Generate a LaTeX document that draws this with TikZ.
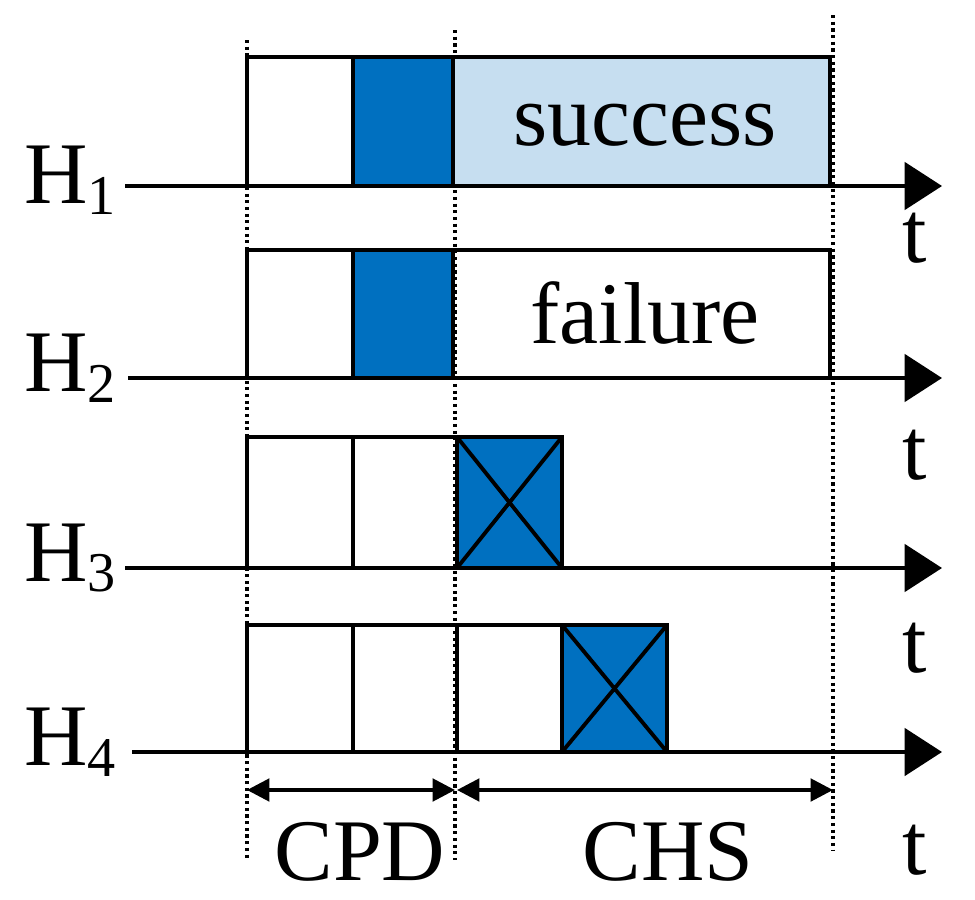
\documentclass[tikz,border=0pt]{standalone}
\usepackage{fontspec}
\setmainfont{Liberation Serif}
\usetikzlibrary{arrows.meta,positioning}
\definecolor{slotblue}{RGB}{0,112,192}
\definecolor{slotlight}{RGB}{198,222,240}
\newcommand{\hlab}[1]{H\raisebox{-0.12em}{\fontsize{32}{32}\selectfont #1}}

\begin{document}
\begin{tikzpicture}[x=0.02cm,y=-0.02cm,
    line width=2.2pt,
    axis/.style={-{Triangle[length=0.75cm,width=0.95cm]}},
    slot/.style={draw,line width=2.2pt},
    guide/.style={dotted,line width=1.8pt},
    span/.style={{Triangle[length=0.45cm,width=0.45cm]}-{Triangle[length=0.45cm,width=0.45cm]}},
    lab/.style={font=\fontsize{50}{52}\selectfont,inner sep=0pt},
]
\useasboundingbox (0,0) rectangle (975,900);

% Guides
\coordinate (g1a) at (247,40);  \coordinate (g1b) at (247,860);
\coordinate (g2a) at (455,30);  \coordinate (g2b) at (455,860);
\coordinate (g3a) at (833,15);  \coordinate (g3b) at (833,850);
\draw[guide] (g1a) -- (g1b);
\draw[guide] (g2a) -- (g2b);
\draw[guide] (g3a) -- (g3b);

% H1
\fill[slotblue] (353,57) rectangle (453,186);
\fill[slotlight] (453,57) rectangle (830,186);
\draw[slot] (247,186) -- (247,57) -- (830,57) -- (830,186);
\draw[slot] (353,57) -- (353,186);
\draw[slot] (453,57) -- (453,186);
\node[lab] (succ) at (645,125) {success};
\coordinate (a1s) at (125,186); \coordinate (a1e) at (942,186);
\draw[axis] (a1s) -- (a1e);

% H2
\fill[slotblue] (353,250) rectangle (453,378);
\draw[slot] (247,378) -- (247,250) -- (830,250) -- (830,378);
\draw[slot] (353,250) -- (353,378);
\draw[slot] (453,250) -- (453,378);
\node[lab] (fail) at (645,313) {failure};
\coordinate (a2s) at (128,378); \coordinate (a2e) at (942,378);
\draw[axis] (a2s) -- (a2e);

% H3
\fill[slotblue] (457,437) rectangle (562,568);
\draw[slot] (247,568) -- (247,437) -- (562,437) -- (562,568);
\draw[slot] (353,437) -- (353,568);
\draw[slot] (457,437) -- (457,568);
\draw[slot] (457,437) -- (562,568) (562,437) -- (457,568);
\coordinate (a3s) at (125,568); \coordinate (a3e) at (942,568);
\draw[axis] (a3s) -- (a3e);

% H4
\fill[slotblue] (562,625) rectangle (667,752);
\draw[slot] (247,752) -- (247,625) -- (667,625) -- (667,752);
\draw[slot] (353,625) -- (353,752);
\draw[slot] (457,625) -- (457,752);
\draw[slot] (562,625) -- (562,752);
\draw[slot] (562,625) -- (667,752) (667,625) -- (562,752);
\coordinate (a4s) at (132,752); \coordinate (a4e) at (942,752);
\draw[axis] (a4s) -- (a4e);

% Labels
\node[lab] (h1) at (70,180) {\hlab{1}};
\node[lab] (h2) at (70,368) {\hlab{2}};
\node[lab] (h3) at (70,558) {\hlab{3}};
\node[lab] (h4) at (70,742) {\hlab{4}};
\node[lab] (t1) at (915,238) {t};
\node[lab] (t2) at (915,455) {t};
\node[lab] (t3) at (915,648) {t};
\node[lab] (t4) at (915,850) {t};

% Spans
\coordinate (c1) at (247,790); \coordinate (c2) at (455,790);
\coordinate (c3) at (457,790); \coordinate (c4) at (833,790);
\draw[span] (c1) -- (c2);
\draw[span] (c3) -- (c4);
\node[lab] (cpd) at (360,852) {CPD};
\node[lab] (chs) at (668,852) {CHS};
\end{tikzpicture}
\end{document}
